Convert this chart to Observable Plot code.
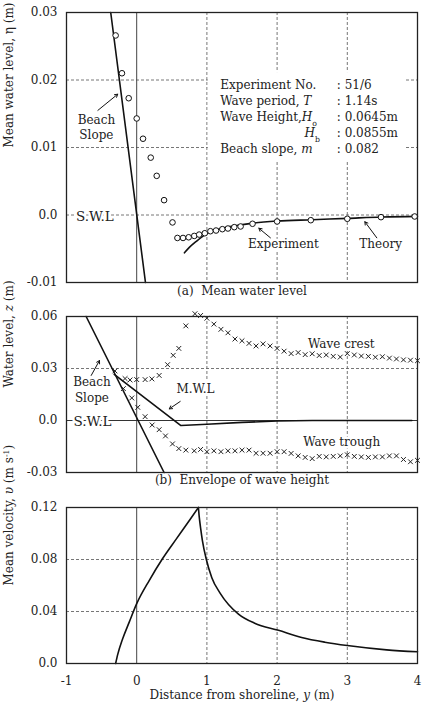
<!DOCTYPE html>
<html><head><meta charset="utf-8">
<script src="https://cdn.jsdelivr.net/npm/d3@7"></script>
<script src="https://cdn.jsdelivr.net/npm/@observablehq/plot@0.6"></script>
<style>
body{margin:0;background:#fff;}
#chart{width:423px;height:705px;}
#chart svg{display:block;}
</style></head><body><div id="chart"></div>
<script>
// ---------- Data ----------
// Panel (a) Mean water level
const expX   = [-0.30,-0.21,-0.114,0.0,0.09,0.20,0.285,0.39,0.51,0.58,0.66,0.74,0.82,0.89,0.97,1.05,1.13,1.22,1.30,1.39,1.48,1.65,2.0,2.48,3.0,3.48,3.96];
const expEta = [0.0266,0.021,0.0173,0.0143,0.0113,0.0085,0.0058,0.0022,-0.0011,-0.0034,-0.0034,-0.0033,-0.0031,-0.0029,-0.0027,-0.0024,-0.0023,-0.0021,-0.0020,-0.0018,-0.0017,-0.0013,-0.00096,-0.00077,-0.00056,-0.00032,-0.00022];
const theoryX   = [0.68,0.75,0.85,0.95,1.05,1.2,1.4,1.66,2.0,2.5,3.0,3.5,4.0];
const theoryEta = [-0.0056,-0.0048,-0.0039,-0.0031,-0.0025,-0.0020,-0.0016,-0.0012,-0.0009,-0.0007,-0.0005,-0.0003,-0.0002];
const slopeAX   = [-0.37,0.125];
const slopeAEta = [0.03,-0.01];

// Panel (b) Envelope of wave height
const crestX = [-0.31,-0.166,-0.095,0.0,0.12,0.216,0.32,0.44,0.52,0.60,0.70,0.83,0.91,1.0,1.1,1.2,1.3,1.4,1.5,1.6,1.7,1.8,1.9,2.0,2.1,2.2,2.3,2.4,2.5,2.6,2.7,2.8,2.9,3.0,3.1,3.2,3.3,3.4,3.5,3.6,3.7,3.8,3.9,4.0];
const crestZ = [0.0286,0.0242,0.0234,0.0236,0.0236,0.024,0.026,0.0322,0.0376,0.0416,0.0546,0.0616,0.0606,0.059,0.0556,0.0526,0.0506,0.047,0.046,0.0445,0.043,0.0442,0.043,0.0416,0.040,0.0386,0.0392,0.038,0.0385,0.0375,0.0378,0.037,0.0366,0.0386,0.0378,0.0372,0.037,0.0365,0.0368,0.036,0.0355,0.035,0.0348,0.0345];
const troughX = [-0.19,-0.07,0.015,0.12,0.22,0.32,0.41,0.51,0.60,0.70,0.82,0.91,1.0,1.1,1.2,1.3,1.4,1.5,1.6,1.7,1.8,1.9,2.0,2.1,2.2,2.3,2.4,2.5,2.6,2.7,2.8,2.9,3.0,3.1,3.2,3.3,3.4,3.5,3.6,3.7,3.8,3.9,4.0];
const troughZ = [0.0184,0.013,0.0076,0.0022,-0.0026,-0.0053,-0.0089,-0.0135,-0.0162,-0.0171,-0.0175,-0.0167,-0.018,-0.0175,-0.018,-0.0175,-0.0175,-0.0171,-0.0171,-0.0189,-0.0189,-0.0189,-0.018,-0.018,-0.019,-0.0204,-0.0213,-0.022,-0.0207,-0.021,-0.0207,-0.0204,-0.0198,-0.0207,-0.021,-0.0213,-0.021,-0.021,-0.0204,-0.0204,-0.0225,-0.0238,-0.023];
const mwlX = [-0.32,0.63,1.0,1.5,2.0,2.5,3.0,3.5,3.92];
const mwlZ = [0.0266,-0.0029,-0.0022,-0.0011,-0.0003,0.0,0.0,0.0,0.0];
const slopeBX = [-0.72,0.39];
const slopeBZ = [0.06,-0.03];

// Panel (c) Mean velocity
const velRiseX = [-0.30,-0.27,-0.2,-0.105,0.0,0.18,0.36,0.56,0.75,0.879];
const velRiseV = [0.0,0.007,0.019,0.032,0.046,0.064,0.080,0.0955,0.110,0.12];
const velFallX = [0.879,0.889,0.912,0.936,0.993,1.07,1.19,1.45,1.68,2.02,2.35,2.68,3.0,3.56,4.0];
const velFallV = [0.12,0.1138,0.1036,0.0946,0.0798,0.066,0.054,0.038,0.031,0.0255,0.020,0.0164,0.0138,0.0105,0.009];

// Ticks and grid
const xTicks  = [-1,0,1,2,3,4];
const yTicksA = [-0.01,0.0,0.01,0.02,0.03];
const yTicksB = [-0.03,0.0,0.03,0.06];
const yTicksC = [0.0,0.04,0.08,0.12];
const gridX   = [1,2,3];
const gridYA  = [0.0,0.01,0.02];
const gridYB  = [0.03];
const gridYC  = [0.04,0.08];

// Annotations
const infoLeft  = ["Experiment No.","Wave period, <i>T</i>","Wave Height,<i>H</i><sub>o</sub>","","Beach slope, <i>m</i>"];
const infoRight = [": 51/6",": 1.14s",": 0.0645m",": 0.0855m",": 0.082"];
const infoRowY  = [0.0192,0.0168,0.0145,0.0121,0.0097];
const infoBox   = [{x1:1.02,x2:3.82,y1:0.0078,y2:0.0211}];
const labelsA = [
  {x:-0.574,y:0.0131,t:"Beach\nSlope",s:12},
  {x:-0.595,y:0.0,t:"S.W.L",s:13.5},
  {x:2.09,y:-0.00422,t:"Experiment",s:12},
  {x:3.475,y:-0.00422,t:"Theory",s:12}
];
const arrowsA = [
  {x1:-0.553,y1:0.0155,x2:-0.27,y2:0.0179},
  {x1:1.905,y1:-0.00338,x2:1.74,y2:-0.00196},
  {x1:3.42,y1:-0.00338,x2:3.25,y2:-0.0010}
];
const labelsB = [
  {x:-0.638,y:0.0182,t:"Beach\nSlope",s:12},
  {x:-0.63,y:0.0,t:"S.W.L",s:13.5},
  {x:0.837,y:0.0185,t:"M.W.L",s:12},
  {x:2.915,y:0.045,t:"Wave crest",s:12},
  {x:2.92,y:-0.012,t:"Wave trough",s:12}
];
const arrowsB = [
  {x1:-0.648,y1:0.026,x2:-0.53,y2:0.0346},
  {x1:0.62,y1:0.011,x2:0.464,y2:0.0067}
];

// ---------- Helpers ----------
const zip = (xs, ys) => xs.map((x, i) => ({x, y: ys[i]}));
const FONT = "DejaVu Serif";
const INK = "#111";
const GRID = "#666";
const FS = 12;
const fmtY = d => d === 0 ? "0.0" : d.toFixed(2);
const style = {fontFamily: FONT, fontSize: "12px", background: "white", color: "#222", overflow: "visible"};
const dashed = {stroke: GRID, strokeDasharray: "3,2", strokeWidth: 0.9};
const halo = {stroke: "white", strokeWidth: 5, fill: "#222"};

function rich(svg) {
  svg.querySelectorAll("text").forEach(t => {
    const s = t.textContent;
    if (s.includes("<")) {
      t.innerHTML = s
        .replace(/<i>(.*?)<\/i>/g, '<tspan font-style="italic">$1</tspan>')
        .replace(/<sub>(.*?)<\/sub>/g, '<tspan font-size="65%" baseline-shift="sub">$1</tspan>')
        .replace(/<sup>(.*?)<\/sup>/g, '<tspan font-size="65%" baseline-shift="super">$1</tspan>');
    }
  });
  return svg;
}
function ylabel(text, dy = 0) {
  return Plot.text([text], {frameAnchor: "left", dx: -57, dy, rotate: -90, fontSize: FS, fill: "#222"});
}

// ---------- Panel (a) ----------
const A = Plot.plot({
  width: 423, height: 300, marginLeft: 66, marginRight: 6, marginTop: 12, marginBottom: 18,
  style,
  x: {domain: [-1, 4], axis: null},
  y: {domain: [-0.01, 0.03], ticks: yTicksA, tickFormat: fmtY, tickSize: 0, tickPadding: 9, label: null},
  marks: [
    Plot.ruleY(gridYA, dashed),
    Plot.ruleX(gridX, dashed),
    Plot.ruleX([0], {stroke: "#444", strokeWidth: 1}),
    Plot.rect(infoBox, {x1: "x1", x2: "x2", y1: "y1", y2: "y2", fill: "white"}),
    Plot.line(zip(slopeAX, slopeAEta), {x: "x", y: "y", stroke: INK, strokeWidth: 1.6}),
    Plot.line(zip(theoryX, theoryEta), {x: "x", y: "y", stroke: INK, strokeWidth: 1.6, curve: "monotone-x"}),
    Plot.dot(zip(expX, expEta), {x: "x", y: "y", r: 2.8, fill: "white", stroke: INK, strokeWidth: 1}),
    Plot.text(labelsA, {x: "x", y: "y", text: "t", fontSize: "s", lineHeight: 1.3, ...halo}),
    Plot.arrow(arrowsA, {x1: "x1", y1: "y1", x2: "x2", y2: "y2", stroke: INK, strokeWidth: 1, headLength: 5}),
    Plot.text(infoLeft, {x: 1.19, y: (d, i) => infoRowY[i], text: d => d, textAnchor: "start", fontSize: FS, fill: "#222"}),
    Plot.text(["<i>H</i><sub>b</sub>"], {x: 2.61, y: infoRowY[3], text: d => d, textAnchor: "end", fontSize: FS, fill: "#222"}),
    Plot.text(infoRight, {x: 2.85, y: (d, i) => infoRowY[i], text: d => d, textAnchor: "start", fontSize: FS, fill: "#222"}),
    Plot.frame({stroke: "#222", strokeWidth: 1.3}),
    ylabel("Mean water level, η (m)"),
    Plot.text(["(a)  Mean water level"], {frameAnchor: "bottom", dy: 12, fontSize: FS, fill: "#222"})
  ]
});

// ---------- Panel (b) ----------
const B = Plot.plot({
  width: 423, height: 190, marginLeft: 66, marginRight: 6, marginTop: 16, marginBottom: 18,
  style,
  x: {domain: [-1, 4], axis: null},
  y: {domain: [-0.03, 0.06], ticks: yTicksB, tickFormat: fmtY, tickSize: 0, tickPadding: 9, label: null},
  marks: [
    Plot.ruleY(gridYB, dashed),
    Plot.ruleX(gridX, dashed),
    Plot.ruleX([0], {stroke: "#444", strokeWidth: 1}),
    Plot.ruleY([0], {stroke: "#333", strokeWidth: 1.2}),
    Plot.line(zip(slopeBX, slopeBZ), {x: "x", y: "y", stroke: INK, strokeWidth: 1.6}),
    Plot.line(zip(mwlX, mwlZ), {x: "x", y: "y", stroke: INK, strokeWidth: 1.6}),
    Plot.text(labelsB, {x: "x", y: "y", text: "t", fontSize: "s", lineHeight: 1.3, ...halo}),
    Plot.dot(zip(crestX, crestZ), {x: "x", y: "y", symbol: "times", r: 2.3, stroke: "#222", strokeWidth: 1}),
    Plot.dot(zip(troughX, troughZ), {x: "x", y: "y", symbol: "times", r: 2.3, stroke: "#222", strokeWidth: 1}),
    Plot.arrow(arrowsB, {x1: "x1", y1: "y1", x2: "x2", y2: "y2", stroke: INK, strokeWidth: 1, headLength: 5}),
    Plot.frame({stroke: "#222", strokeWidth: 1.3}),
    ylabel("Water level, <i>z</i> (m)", -7),
    Plot.text(["(b)  Envelope of wave height"], {frameAnchor: "bottom", dy: 11, fontSize: FS, fill: "#222"})
  ]
});

// ---------- Panel (c) ----------
const C = Plot.plot({
  width: 423, height: 215, marginLeft: 66, marginRight: 6, marginTop: 17, marginBottom: 42,
  style,
  x: {domain: [-1, 4], ticks: xTicks, tickFormat: d => String(d), tickSize: 0, tickPadding: 13, label: null},
  y: {domain: [0, 0.12], ticks: yTicksC, tickFormat: fmtY, tickSize: 0, tickPadding: 9, label: null},
  marks: [
    Plot.ruleY(gridYC, dashed),
    Plot.ruleX(gridX, dashed),
    Plot.ruleX([0], {stroke: "#444", strokeWidth: 1}),
    Plot.line(zip(velRiseX, velRiseV), {x: "x", y: "y", stroke: INK, strokeWidth: 1.6, curve: "monotone-x"}),
    Plot.line(zip(velFallX, velFallV), {x: "x", y: "y", stroke: INK, strokeWidth: 1.6, curve: "monotone-x"}),
    Plot.frame({stroke: "#222", strokeWidth: 1.3}),
    ylabel("Mean velocity, <i>υ</i> (m s<sup>-1</sup>)"),
    Plot.text(["Distance from shoreline, <i>y</i> (m)"], {frameAnchor: "bottom", dy: 35, fontSize: FS, fill: "#222"})
  ]
});

const root = document.getElementById("chart");
[A, B, C].forEach(svg => root.appendChild(rich(svg)));
</script></body></html>
